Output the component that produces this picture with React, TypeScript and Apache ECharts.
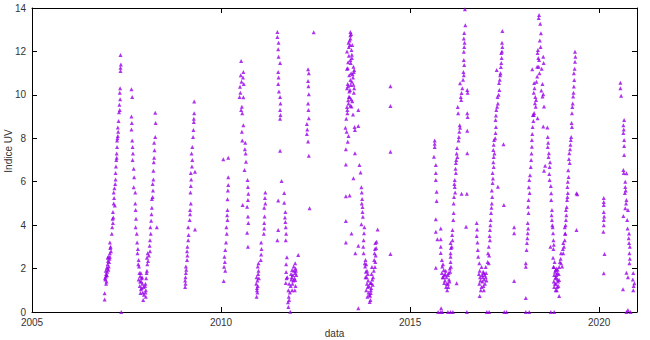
import React, { useEffect, useRef } from "react";
import * as echarts from "echarts";

// [decimal year, UV index]
const s2007: number[][] = [
  [2006.92,0.58],[2006.92,0.86],[2006.94,1.5],[2006.95,1.62],[2006.96,1.75],[2006.95,1.9],[2006.97,1.68],[2006.99,1.85],
  [2007.00,2.0],[2007.00,2.2],[2007.01,2.35],[2007.00,2.5],[2007.02,1.95],[2007.05,2.45],[2007.06,2.7],[2007.07,2.95],
  [2007.06,3.2],[2007.11,3.6],[2007.14,4.1],[2007.15,4.35],[2007.14,4.6],[2007.16,5.0],[2007.17,5.25],[2007.16,5.5],
  [2007.21,6.1],[2007.21,6.4],[2007.23,7.0],[2007.24,7.3],[2007.25,7.6],[2007.25,7.9],[2007.27,8.1],[2007.28,8.3],
  [2007.27,8.5],[2007.29,8.8],[2007.30,9.2],[2007.32,9.3],[2007.31,9.55],[2007.33,9.8],[2007.32,10.1],[2007.33,10.3],
  [2007.34,11.1],[2007.34,11.25],[2007.35,11.4],[2007.34,11.84],[2007.36,0],
  [2006.93,1.55],[2006.97,1.4],[2006.98,1.7],[2007.03,2.1],[2007.04,2.3],[2007.08,3.0],[2007.09,2.8],[2007.12,3.9],
  [2007.18,5.7],[2007.19,4.9],[2007.22,6.7],[2007.26,8.0],[2007.20,5.9],
  [2006.96,1.3],[2006.98,2.05],[2007.02,2.55],[2007.06,2.55],[2007.13,4.3],[2007.24,7.1],
];
const s2007b: number[][] = [
  [2007.63,10.26],[2007.65,9.9],[2007.63,9.0],[2007.64,8.7],[2007.63,8.4],[2007.65,7.9],[2007.66,7.6],[2007.67,7.3],
  [2007.66,7.0],[2007.69,6.6],[2007.70,6.2],[2007.69,5.75],[2007.73,5.5],[2007.73,5.0],[2007.74,4.7],[2007.75,4.3],
  [2007.74,3.9],[2007.77,3.6],[2007.78,3.2],[2007.79,2.7],[2007.82,2.4],[2007.83,2.1],[2007.84,1.8],[2007.82,1.5],
  [2007.88,1.8],[2007.89,1.4],[2007.90,1.1],[2007.87,0.87],[2007.95,1.15],[2007.96,0.8],[2007.94,0.55],[2007.86,1.65],
  [2007.92,1.3],[2007.80,2.9],[2007.85,1.2],[2007.91,1.6],
  [2007.81,2.2],[2007.86,1.4],[2007.88,1.05],[2007.93,0.9],[2007.90,1.55],
];
const s2008: number[][] = [
  [2008.01,0.7],[2008.01,1.0],[2008.00,1.3],[2008.02,1.55],[2008.03,1.8],[2008.04,1.9],[2008.05,2.2],[2008.04,2.5],
  [2008.06,2.7],[2008.12,2.8],[2008.11,3.05],[2008.12,3.3],[2008.14,3.6],[2008.13,3.9],[2008.15,4.2],[2008.16,4.5],
  [2008.17,4.8],[2008.17,5.2],[2008.19,5.3],[2008.20,5.6],[2008.19,5.9],[2008.21,6.1],[2008.21,6.5],[2008.22,6.9],
  [2008.23,7.1],[2008.24,7.45],[2008.23,7.8],[2008.26,8.06],[2008.27,8.7],[2008.26,9.18],[2008.30,3.9],[2008.00,0.9],
  [2007.99,1.2],[2008.07,2.35],[2008.09,2.6],
];
const s2009: number[][] = [
  [2009.05,1.15],[2009.06,1.3],[2009.05,1.45],[2009.06,1.6],[2009.07,1.8],[2009.08,1.95],[2009.07,2.1],[2009.10,2.4],
  [2009.11,2.6],[2009.10,2.8],[2009.11,3.0],[2009.13,3.3],[2009.14,3.55],[2009.13,3.9],[2009.31,3.8],[2009.17,4.24],
  [2009.18,4.5],[2009.18,4.7],[2009.20,5.0],[2009.19,5.5],[2009.20,5.8],[2009.21,6.1],[2009.20,6.4],[2009.23,6.7],
  [2009.24,7.0],[2009.22,7.3],[2009.24,7.6],[2009.31,6.46],[2009.26,8.06],[2009.27,8.38],[2009.28,8.75],[2009.29,9.15],
  [2009.29,9.69],[2009.28,8.9],
];
const s2010a: number[][] = [
  [2010.06,7.03],[2010.19,7.1],[2010.19,6.2],[2010.19,5.85],[2010.18,5.6],[2010.17,5.19],[2010.17,4.7],[2010.16,4.45],
  [2010.17,4.24],[2010.14,3.9],[2010.15,3.6],[2010.13,3.2],[2010.11,2.86],[2010.09,2.54],[2010.10,2.3],[2010.08,2.08],
  [2010.11,1.9],[2010.07,1.43],
];
const s2010b: number[][] = [
  [2010.53,11.56],[2010.59,11.05],[2010.58,10.8],[2010.60,10.5],[2010.50,10.37],[2010.51,10.1],[2010.49,9.9],[2010.59,9.89],
  [2010.55,9.45],[2010.56,9.15],[2010.53,9.3],[2010.59,8.6],[2010.55,8.3],[2010.56,7.9],[2010.64,7.8],[2010.63,7.5],
  [2010.65,7.3],[2010.66,6.92],[2010.62,6.54],[2010.70,6.08],[2010.71,5.76],[2010.72,5.45],[2010.71,5.16],[2010.57,4.93],
  [2010.69,4.85],[2010.71,4.4],[2010.72,4.1],[2010.69,3.65],[2010.71,3.0],[2010.52,10.9],[2010.54,10.6],
];
const s2011a: number[][] = [
  [2010.94,0.7],[2010.96,0.9],[2010.95,1.1],[2010.93,1.3],[2010.96,1.45],[2010.94,1.6],[2010.98,1.75],[2010.99,1.9],
  [2010.97,2.1],[2010.99,2.25],[2011.05,2.4],[2011.06,2.65],[2011.07,2.9],[2011.06,3.2],[2011.13,3.6],[2011.14,3.85],
  [2011.14,4.1],[2011.15,4.4],[2011.14,4.8],[2011.17,5.0],[2011.16,5.25],[2011.17,5.5],[2010.97,1.2],[2010.95,1.0],
  [2011.00,1.55],
];
const s2011b: number[][] = [
  [2011.49,12.67],[2011.49,12.9],[2011.52,12.4],[2011.51,12.1],[2011.52,11.75],[2011.56,11.47],[2011.51,11.05],[2011.52,10.8],
  [2011.51,10.5],[2011.53,10.15],[2011.56,9.9],[2011.57,9.6],[2011.56,9.3],[2011.57,9.07],[2011.56,8.9],[2011.56,7.43],
  [2011.60,6.03],[2011.67,5.48],[2011.51,5.13],[2011.67,5.03],[2011.70,4.6],[2011.69,4.35],[2011.70,4.15],[2011.51,3.78],
  [2011.71,3.9],[2011.72,3.6],[2011.71,3.3],[2011.49,3.3],[2011.74,2.52],[2011.72,2.2],
];
const s2012a: number[][] = [
  [2012.04,2.63],[2011.96,2.25],[2011.97,2.0],[2011.96,1.8],[2011.88,1.93],[2011.87,1.6],[2011.89,1.3],[2011.88,1.0],
  [2011.72,1.84],[2011.73,1.55],[2011.71,1.33],[2011.78,1.0],[2011.79,0.7],[2011.77,0.45],[2011.78,0.23],[2011.83,0.01],
  [2011.80,0.55],[2011.96,1.47],[2011.97,1.2],[2011.95,1.0],[2011.99,1.7],[2011.91,1.45],[2011.85,1.75],[2011.84,1.2],
  [2011.92,2.1],
  [2011.75,1.6],[2011.80,1.3],[2011.82,0.9],[2011.86,1.5],[2011.90,1.7],[2011.93,1.9],[2011.94,1.55],[2011.98,1.9],
];
const s2012b: number[][] = [
  [2012.45,12.88],[2012.30,11.18],[2012.32,11.0],[2012.30,10.64],[2012.31,10.4],[2012.32,10.03],[2012.30,9.6],[2012.31,9.3],
  [2012.32,8.92],[2012.27,8.66],[2012.28,8.4],[2012.27,8.2],[2012.30,7.85],[2012.32,7.19],[2012.34,4.78],
];
const s2013: number[][] = [
  [2013.42,12.9],[2013.42,12.75],[2013.42,12.6],[2013.37,12.4],[2013.38,12.2],[2013.45,12.07],[2013.46,11.85],[2013.33,12.0],
  [2013.42,11.6],[2013.43,11.47],[2013.35,11.22],[2013.50,11.3],[2013.51,11.05],[2013.49,10.8],[2013.42,10.68],[2013.43,10.45],
  [2013.41,10.22],[2013.33,10.3],[2013.50,10.46],[2013.51,10.1],[2013.38,9.9],[2013.37,9.6],[2013.33,9.44],[2013.34,9.15],
  [2013.45,9.46],[2013.63,9.3],[2013.29,8.49],[2013.32,8.3],[2013.53,8.52],[2013.54,8.38],[2013.63,8.57],[2013.35,7.84],
  [2013.30,7.5],[2013.54,7.31],[2013.30,6.79],[2013.66,6.77],[2013.69,6.42],[2013.50,6.16],[2013.71,5.74],[2013.30,5.33],
  [2013.40,5.37],[2013.72,5.5],[2013.73,5.2],[2013.72,5.0],[2013.74,4.84],[2013.74,4.6],[2013.75,4.39],[2013.30,4.19],
  [2013.71,4.04],[2013.79,3.9],[2013.78,3.63],[2014.14,3.8],[2013.30,3.2],[2013.45,3.62],[2013.63,3.05],[2013.55,2.7],
  [2013.77,3.3],[2013.76,3.0],[2013.77,2.7],[2013.82,2.4],[2013.81,2.1],[2013.83,1.85],[2013.82,1.6],[2013.85,1.6],
  [2013.86,1.3],[2013.84,1.0],[2013.87,0.7],[2013.95,1.33],[2013.96,1.0],[2013.94,0.75],[2013.95,0.55],[2013.99,2.07],
  [2013.98,1.75],[2014.00,1.5],[2013.97,1.33],[2014.08,3.18],[2014.07,2.9],[2014.09,2.6],[2014.08,2.3],[2014.07,2.07],
  [2014.11,3.24],[2013.93,0.46],[2013.96,0.87],[2013.63,0.17],[2013.88,1.15],[2013.90,0.9],[2013.89,1.45],[2014.02,1.6],
  [2014.04,1.9],[2013.80,2.25],[2013.36,11.5],[2013.44,11.0],[2013.39,10.9],[2013.47,9.7],[2013.40,9.9],[2013.35,10.5],
  [2013.47,12.3],[2013.40,12.5],
  [2013.44,12.8],[2013.41,12.3],[2013.46,11.7],[2013.38,11.8],[2013.52,11.15],[2013.48,10.95],[2013.46,10.6],[2013.36,10.4],
  [2013.39,10.15],[2013.52,10.3],[2013.44,9.8],[2013.36,9.75],[2013.34,9.3],[2013.42,9.5],[2013.49,9.1],[2013.31,8.9],
  [2013.37,8.1],[2013.33,11.2],
  [2013.84,2.2],[2013.86,1.9],[2013.88,1.75],[2013.91,1.2],[2013.92,0.8],[2013.97,1.1],[2014.01,1.25],[2014.05,2.4],
  [2014.06,2.7],[2014.10,2.95],
];
const s2014: number[][] = [
  [2014.48,10.4],[2014.48,9.49],[2014.48,7.38],[2014.48,2.67],
];
const s2015: number[][] = [
  [2015.65,7.9],[2015.65,7.75],[2015.65,7.6],[2015.63,7.15],[2015.68,6.77],[2015.68,6.4],[2015.68,6.08],[2015.70,5.54],
  [2015.70,5.11],[2015.68,4.27],[2015.68,3.7],[2015.72,3.35],[2015.81,3.85],[2015.81,3.35],[2015.81,3.0],[2015.81,2.72],
  [2015.68,2.04],[2015.82,0.17],[2015.74,0],[2015.81,0],[2015.85,0],
];
const s2016: number[][] = [
  [2015.84,2.4],[2015.85,2.1],[2015.84,1.8],[2015.86,1.6],[2015.89,1.93],[2015.88,1.6],[2015.90,1.33],[2015.96,1.6],
  [2015.97,1.3],[2015.98,1.0],[2016.02,1.8],[2016.03,1.5],[2016.01,1.15],[2016.07,2.54],[2016.07,2.3],[2016.08,2.08],
  [2016.07,3.18],[2016.08,2.95],[2016.07,2.7],[2016.12,3.78],[2016.11,3.55],[2016.12,3.3],[2016.15,4.56],[2016.14,4.24],
  [2016.16,5.3],[2016.15,5.0],[2016.18,6.08],[2016.18,5.76],[2016.21,6.86],[2016.20,6.6],[2016.21,6.4],[2016.24,7.55],
  [2016.23,7.3],[2016.25,7.14],[2016.29,8.06],[2016.28,7.9],[2016.31,8.6],[2016.32,8.48],[2016.26,9.44],[2016.27,9.15],
  [2016.36,10.09],[2016.34,9.9],[2016.35,9.76],[2016.32,10.53],[2016.41,11.05],[2016.42,10.9],[2016.42,11.6],[2016.43,11.37],
  [2016.43,12.2],[2016.42,11.98],[2016.43,12.85],[2016.42,12.6],[2016.46,13.2],[2016.45,13.94],[2016.51,10.22],[2016.52,10.1],
  [2016.51,9.15],[2016.52,8.98],[2016.51,8.35],[2016.51,7.31],[2016.50,5.44],[2016.36,5.44],[2016.48,3.93],[2016.23,1.32],
  [2016.00,0],[2016.07,0],[2016.13,0],[2016.50,0],[2015.92,1.45],[2015.93,1.75],[2015.95,1.15],[2016.04,1.4],
  [2016.00,1.7],[2016.10,3.0],[2016.19,5.5],
  [2015.87,2.2],[2015.90,1.7],[2015.94,1.9],[2016.00,1.3],[2016.05,2.0],[2016.06,1.85],
  [2016.17,5.9],[2016.22,7.0],[2016.30,8.3],[2016.38,10.3],[2016.40,10.7],[2016.44,12.4],
];
const s2017: number[][] = [
  [2016.76,4.1],[2016.77,3.8],[2016.76,3.5],[2016.78,3.2],[2016.79,2.86],[2016.80,2.54],[2016.83,2.25],[2016.84,1.9],
  [2016.85,1.6],[2016.83,1.3],[2016.89,2.07],[2016.90,1.7],[2016.91,1.4],[2016.89,1.15],[2016.95,1.8],[2016.96,1.5],
  [2016.94,1.2],[2016.95,1.0],[2017.00,2.07],[2017.01,1.8],[2017.00,1.6],[2016.84,0.74],[2017.08,3.0],[2017.09,2.6],
  [2017.08,2.25],[2017.11,3.78],[2017.10,3.5],[2017.11,3.3],[2017.14,4.56],[2017.13,4.24],[2017.16,5.6],[2017.17,5.3],
  [2017.16,5.0],[2017.18,6.4],[2017.19,6.15],[2017.18,5.94],[2017.21,7.14],[2017.20,6.9],[2017.21,6.68],[2017.22,7.92],
  [2017.21,7.7],[2017.20,7.46],[2017.27,8.52],[2017.26,8.24],[2017.28,9.3],[2017.27,9.05],[2017.26,8.84],[2017.31,9.9],
  [2017.32,9.6],[2017.35,10.55],[2017.36,10.22],[2017.40,11.28],[2017.39,11.0],[2017.41,11.93],[2017.42,11.7],[2017.41,11.47],
  [2017.43,12.4],[2017.44,12.2],[2017.44,12.94],[2017.29,11.15],[2017.47,7.72],[2017.48,4.93],[2017.32,5.77],[2017.75,3.9],
  [2017.75,3.63],[2017.75,1.43],[2017.03,0],[2017.09,0],[2017.49,0],[2017.55,0],[2016.87,1.0],[2016.92,1.6],
  [2016.98,1.3],
  [2016.82,1.75],[2016.86,1.45],[2016.93,1.85],[2016.97,1.7],[2017.02,1.45],[2017.05,2.3],[2017.06,2.7],
  [2017.12,4.0],[2017.15,4.8],[2017.23,7.3],[2017.25,8.0],[2017.30,9.45],[2017.34,10.0],[2017.37,10.7],[2017.38,10.9],
  [2017.43,12.0],
];
const s2018: number[][] = [
  [2018.06,2.25],[2018.06,2.08],[2018.09,3.18],[2018.08,2.86],[2018.11,4.1],[2018.12,3.85],[2018.11,3.63],[2018.13,5.16],
  [2018.12,4.85],[2018.13,4.56],[2018.15,6.08],[2018.14,5.75],[2018.16,5.48],[2018.20,7.0],[2018.19,6.68],[2018.22,7.61],
  [2018.24,8.52],[2018.23,8.2],[2018.22,7.92],[2018.28,9.17],[2018.27,9.07],[2018.33,9.76],[2018.32,9.45],[2018.28,10.55],
  [2018.29,10.3],[2018.27,10.1],[2018.36,10.84],[2018.41,11.6],[2018.40,11.3],[2018.42,11.0],[2018.38,12.07],[2018.37,11.93],
  [2018.46,12.84],[2018.41,13.68],[2018.40,13.54],[2018.44,13.27],[2018.23,11.18],[2018.52,11.75],[2018.53,11.47],[2018.50,9.92],
  [2018.30,9.61],[2018.52,10.03],[2018.54,9.46],[2018.52,8.54],[2018.63,8.5],[2018.37,8.92],[2018.25,9.07],[2018.64,8.06],
  [2018.65,7.8],[2018.64,7.6],[2018.67,7.31],[2018.66,7.14],[2018.57,6.74],[2018.69,6.68],[2018.68,6.35],[2018.69,6.08],
  [2018.54,6.51],[2018.73,5.47],[2018.73,5.16],[2018.75,4.7],[2018.74,4.45],[2018.75,4.24],[2018.77,3.9],[2018.78,3.63],
  [2018.71,3.0],[2018.79,3.3],[2018.79,2.9],[2018.78,2.5],[2018.79,2.07],[2018.80,2.07],[2018.81,1.7],[2018.80,1.4],
  [2018.81,1.15],[2018.85,1.93],[2018.86,1.6],[2018.86,1.3],[2018.85,1.0],[2018.89,1.8],[2018.90,1.5],[2018.89,1.15],
  [2018.94,2.07],[2018.93,1.75],[2018.94,1.47],[2018.94,0.74],[2019.02,2.09],[2018.99,2.7],[2018.98,2.45],[2018.99,2.25],
  [2018.06,0.64],[2018.06,0],[2018.15,0],[2018.72,0],[2018.81,0],[2018.83,1.3],[2018.87,1.7],[2018.91,1.4],
  [2018.84,1.55],[2018.88,1.0],
  [2018.10,3.4],[2018.17,6.3],[2018.21,7.3],[2018.26,8.8],[2018.31,9.9],[2018.34,10.6],[2018.36,11.3],[2018.39,11.7],
  [2018.43,12.5],[2018.45,12.2],[2018.48,11.2],[2018.50,10.5],[2018.47,10.2],
  [2018.70,6.9],[2018.72,5.8],[2018.76,4.0],[2018.80,3.1],[2018.82,2.3],[2018.83,1.85],[2018.87,2.0],[2018.92,1.2],
  [2018.96,2.3],[2018.90,1.95],
];
const s2019: number[][] = [
  [2019.05,3.18],[2019.04,2.9],[2019.05,2.7],[2019.09,3.9],[2019.10,3.6],[2019.09,3.3],[2019.12,4.7],[2019.13,4.45],
  [2019.12,4.24],[2019.15,5.16],[2019.14,4.84],[2019.16,5.76],[2019.17,5.48],[2019.18,6.53],[2019.19,6.22],[2019.21,7.31],
  [2019.20,7.05],[2019.22,6.86],[2019.26,8.06],[2019.25,7.92],[2019.27,8.7],[2019.28,8.52],[2019.29,9.44],[2019.28,9.15],
  [2019.31,9.92],[2019.33,10.38],[2019.33,11.0],[2019.34,10.68],[2019.36,11.53],[2019.36,11.98],[2019.37,11.75],[2019.10,3.62],
  [2019.40,3.78],[2019.40,5.47],[2019.42,5.42],
  [2019.07,3.0],[2019.11,4.0],[2019.16,5.3],[2019.17,6.0],[2019.23,7.5],[2019.24,7.7],[2019.30,9.6],[2019.32,10.1],
  [2019.35,11.2],
];
const s2020: number[][] = [
  [2020.12,5.25],[2020.12,5.07],[2020.12,4.93],[2020.12,4.6],[2020.13,4.4],[2020.12,4.24],[2020.12,4.0],[2020.11,3.7],
  [2020.14,2.67],[2020.12,1.78],[2020.56,10.56],[2020.56,10.3],[2020.58,9.96],[2020.66,8.84],[2020.64,8.6],[2020.65,8.4],
  [2020.64,8.24],[2020.66,7.92],[2020.66,7.65],[2020.66,7.23],[2020.64,6.54],[2020.65,6.4],[2020.72,6.39],[2020.69,6.0],
  [2020.69,5.76],[2020.70,5.6],[2020.68,5.48],[2020.72,5.16],[2020.71,5.0],[2020.69,4.78],[2020.76,4.7],[2020.64,4.42],
  [2020.74,4.24],[2020.75,3.85],[2020.79,3.62],[2020.78,3.4],[2020.79,3.18],[2020.81,3.0],[2020.80,2.7],[2020.81,2.45],
  [2020.80,2.25],[2020.72,1.81],[2020.76,1.6],[2020.63,1.05],[2020.90,1.8],[2020.89,1.5],[2020.91,1.2],[2020.90,1.0],
  [2020.93,1.32],[2020.76,0.09],[2020.72,0],[2020.83,0],
];

const X_MIN = 2005;
const X_MAX = 2021;
const X_STEP = 5;
const Y_MIN = 0;
const Y_MAX = 14;
const Y_STEP = 2;
const X_NAME = "data";
const Y_NAME = "Indice UV";

const allPoints = [
  ...s2007, ...s2007b, ...s2008, ...s2009, ...s2010a, ...s2010b, ...s2011a, ...s2011b,
  ...s2012a, ...s2012b, ...s2013, ...s2014, ...s2015, ...s2016, ...s2017, ...s2018, ...s2019, ...s2020,
];

const FONT = "'Liberation Sans', Arial, sans-serif";
const TEXT = "#333";

export default function App() {
  const ref = useRef<HTMLDivElement>(null);
  useEffect(() => {
    if (!ref.current) return;
    const chart = echarts.init(ref.current, null, { renderer: "svg" });
    const line = { show: true, onZero: false, lineStyle: { color: "#000", width: 1 } };
    const tick = { show: true, inside: true, length: 5, lineStyle: { color: "#000", width: 1 } };
    chart.setOption({
      animation: false,
      backgroundColor: "#fff",
      grid: { left: 32, right: 13, top: 8, bottom: 28, containLabel: false, outerBoundsMode: "none" },
      xAxis: [
        {
          type: "value", min: X_MIN, max: X_MAX, interval: X_STEP, position: "bottom",
          axisLine: line, axisTick: tick, splitLine: { show: false },
          axisLabel: { color: TEXT, fontSize: 10, fontFamily: FONT, margin: 5, showMaxLabel: false, formatter: (v: number) => String(v) },
          name: X_NAME, nameLocation: "middle", nameGap: 16, nameMoveOverlap: false,
          nameTextStyle: { color: TEXT, fontSize: 10, fontFamily: FONT },
        },
        {
          type: "value", min: X_MIN, max: X_MAX, interval: X_STEP, position: "top",
          axisLine: line, axisTick: tick, splitLine: { show: false }, axisLabel: { show: false },
        },
      ],
      yAxis: [
        {
          type: "value", min: Y_MIN, max: Y_MAX, interval: Y_STEP, position: "left",
          axisLine: line, axisTick: tick, splitLine: { show: false },
          axisLabel: { color: TEXT, fontSize: 10, fontFamily: FONT, margin: 6 },
          name: Y_NAME, nameLocation: "middle", nameGap: 19, nameRotate: 90, nameMoveOverlap: false,
          nameTextStyle: { color: TEXT, fontSize: 10, fontFamily: FONT, padding: [0, 0, 0, 18] },
        },
        {
          type: "value", min: Y_MIN, max: Y_MAX, interval: Y_STEP, position: "right",
          axisLine: line, axisTick: tick, splitLine: { show: false }, axisLabel: { show: false },
        },
      ],
      series: [
        {
          type: "scatter",
          xAxisIndex: 0,
          yAxisIndex: 0,
          data: allPoints,
          symbol: "triangle",
          symbolSize: 4,
          itemStyle: { color: "#9a00ea" },
          clip: false,
        },
      ],
    });
    return () => chart.dispose();
  }, []);
  return (
    <div
      ref={ref}
      style={{ position: "fixed", left: 0, top: 0, width: 650, height: 340, background: "#fff" }}
    />
  );
}
